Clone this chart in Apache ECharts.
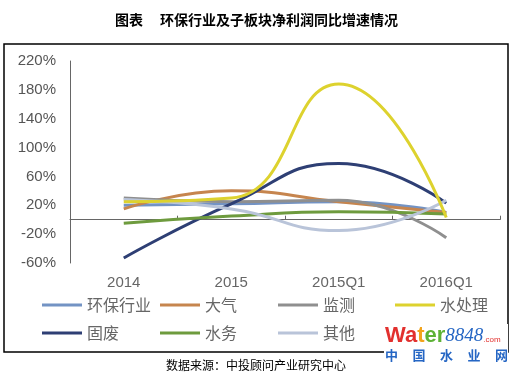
<!DOCTYPE html>
<html><head><meta charset="utf-8">
<script src="https://cdn.jsdelivr.net/npm/echarts@6/dist/echarts.min.js"></script>
<style>html,body{margin:0;padding:0;background:#fff}#c{width:513px;height:373px}</style>
</head><body><div id="c"></div>
<script>
const categories = ['2014', '2015', '2015Q1', '2016Q1'];
const yTicks = [-60, -20, 20, 60, 100, 140, 180, 220];
const seriesNames = ['环保行业', '大气', '监测', '水处理', '固废', '水务', '其他'];
const huanbao = [20, 22, 25, 10];
const daqi = [15, 40, 25, 10];
const jiance = [30, 25, 27, -25];
const shuichuli = [25, 30, 188, 3];
const gufei = [-53, 22, 78, 23];
const shuiwu = [-5, 5, 11, 8];
const qita = [28, 15, -15, 27];
const colors = ['#7393c4', '#c6854e', '#8f8f8f', '#ddd22e', '#2e3f74', '#6e9b3e', '#b9c4d9'];
const seriesData = [huanbao, daqi, jiance, shuichuli, gufei, shuiwu, qita];
const logoChars = ['中', '国', '水', '业', '网'];

const chart = echarts.init(document.getElementById('c'), null, {renderer: 'canvas'});
const legendPos = [[42, 297], [160, 297], [278, 297], [395, 297], [42, 325], [160, 325], [278, 325]];
const legends = seriesNames.map((n, i) => ({
  data: [n], left: legendPos[i][0], top: legendPos[i][1], padding: 0,
  icon: 'rect', itemWidth: 40, itemHeight: 3,
  textStyle: {fontSize: 16, color: '#666', fontFamily: 'Noto Sans CJK SC'}
}));
const logoTexts = logoChars.map((ch, i) => ({
  type: 'text', x: 385 + i * 27.5, y: 349, z: 11,
  style: {text: ch, fontSize: 13, fontWeight: 'bold', fill: '#2566c4', fontFamily: 'Noto Sans CJK SC'}
}));
chart.setOption({
  animation: false,
  color: colors,
  title: {
    text: '图表　 环保行业及子板块净利润同比增速情况',
    left: 'center', top: 8,
    textStyle: {fontSize: 14, fontWeight: 'bold', color: '#000', fontFamily: 'Noto Sans CJK SC'}
  },
  grid: {left: 70, right: 13, top: 61, bottom: 110},
  legend: legends,
  xAxis: [{
    type: 'category', data: categories, boundaryGap: true, position: 'bottom',
    axisLine: {show: true, onZero: true, lineStyle: {color: '#666', width: 1}},
    axisTick: {show: true, inside: true, length: 4, lineStyle: {color: '#666'}},
    axisLabel: {show: false}
  }, {
    type: 'category', data: categories, boundaryGap: true, position: 'bottom',
    axisLine: {show: false, onZero: false}, axisTick: {show: false},
    axisLabel: {color: '#666', fontSize: 15, margin: 12, fontFamily: 'Liberation Sans'}
  }],
  yAxis: {
    type: 'value', min: yTicks[0], max: yTicks[yTicks.length - 1], interval: 40,
    axisLine: {show: true, lineStyle: {color: '#666', width: 1}},
    axisTick: {show: false}, splitLine: {show: false},
    axisLabel: {formatter: '{value}%', color: '#555', fontSize: 15, margin: 14, fontFamily: 'Liberation Sans'}
  },
  series: seriesNames.map((n, i) => ({
    name: n, type: 'line', data: seriesData[i], smooth: true, showSymbol: false,
    lineStyle: {width: 3, color: colors[i]}, itemStyle: {color: colors[i]},
    z: i === 3 ? 5 : 2
  })),
  graphic: [
    {type: 'rect', shape: {x: 4, y: 44, width: 504, height: 308}, style: {fill: 'none', stroke: '#000', lineWidth: 1.5}, silent: true},
    {type: 'text', left: 166, top: 359, style: {text: '数据来源：中投顾问产业研究中心', fontSize: 12, fill: '#000', fontFamily: 'Noto Sans CJK SC'}},
    {type: 'rect', shape: {x: 384, y: 324, width: 124, height: 49}, style: {fill: '#fff'}, z: 10},
    {type: 'text', x: 385, y: 325, z: 11, style: {
      text: '{r|Wa}{o|t}{g|er}{b|8848}{s|.com}',
      rich: {
        r: {fill: '#e2302e', fontSize: 22, fontWeight: 'bold', fontFamily: 'Liberation Sans'},
        o: {fill: '#f2a31b', fontSize: 22, fontWeight: 'bold', fontFamily: 'Liberation Sans'},
        g: {fill: '#5db236', fontSize: 22, fontWeight: 'bold', fontFamily: 'Liberation Sans'},
        b: {fill: '#2566c4', fontSize: 19, fontStyle: 'italic', fontFamily: 'Liberation Serif'},
        s: {fill: '#e2302e', fontSize: 8, fontFamily: 'Liberation Sans', padding: [8, 0, 0, 0]}
      }}}
  ].concat(logoTexts)
});
</script></body></html>
